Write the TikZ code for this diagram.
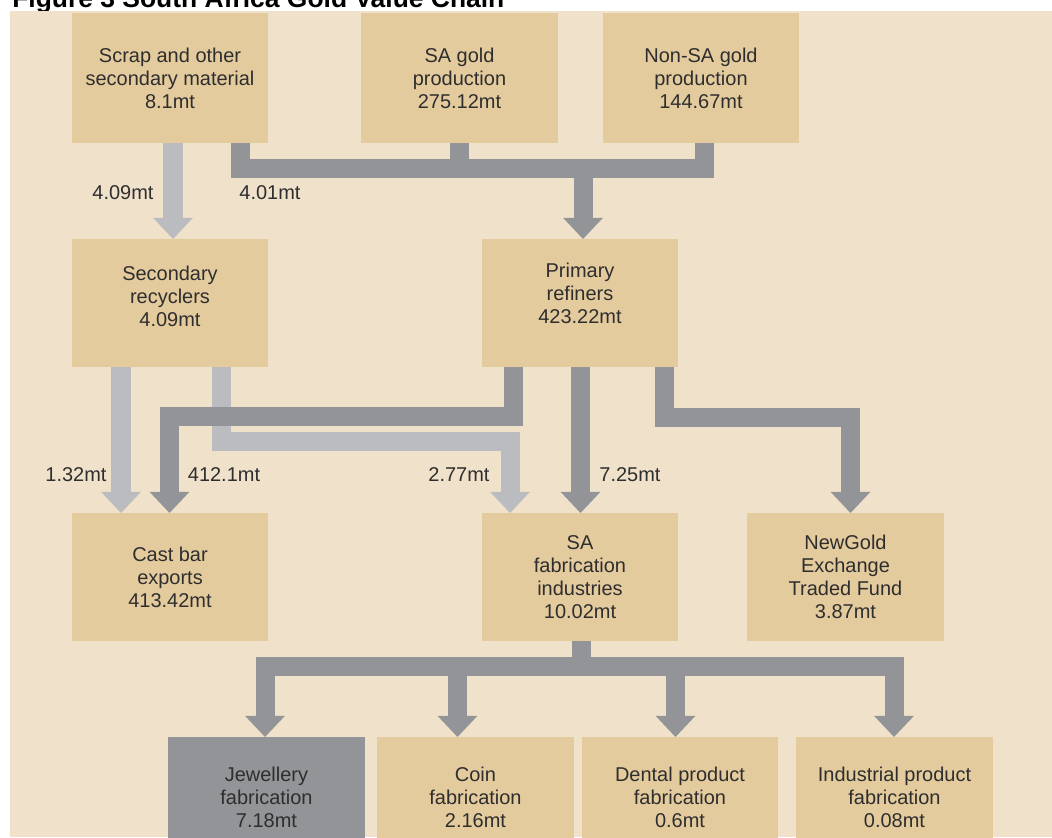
\documentclass[tikz,border=0pt]{standalone}
\usepackage{fontspec}
\setmainfont{Liberation Sans}
\usepackage{xcolor}
\definecolor{ink}{HTML}{2E2E2E}
\definecolor{panelBg}{HTML}{F0E1CA}
\definecolor{boxBg}{HTML}{E4CB9E}
\definecolor{flowDk}{HTML}{939498}
\definecolor{flowLt}{HTML}{BBBCC0}
\usetikzlibrary{arrows.meta,calc}
\tikzset{
  box/.style={fill=boxBg,inner sep=0pt,outer sep=0pt,minimum width=4.9cm,
    minimum height=3.2cm,align=center,text=ink,font=\fontsize{14.2}{16.4}\selectfont},
  greybox/.style={box,fill=flowDk},
  bar/.style={line width=0.475cm},
  darkbar/.style={bar,draw=flowDk},
  lightbar/.style={bar,draw=flowLt},
  darkflow/.style={darkbar,-{Triangle[width=1cm,length=0.53cm,line width=0pt]}},
  lightflow/.style={lightbar,-{Triangle[width=1cm,length=0.53cm,line width=0pt]}},
  lbl/.style={text=ink,inner sep=0pt,font=\fontsize{14.2}{16.4}\selectfont}}

\begin{document}
\begin{tikzpicture}[x=0.025cm,y=-0.025cm]
  \useasboundingbox (0,0) rectangle (1052,837);
  \fill[white] (0,0) rectangle (1052,837);
  \node[anchor=base west,inner sep=0pt,font=\bfseries\fontsize{18.8}{22}\selectfont]
    (title) at (12,7) {Figure 3 South Africa Gold Value Chain};
  \fill[panelBg] (10,11) rectangle (1052,837);

  % sources
  \node[box,minimum height=3.25cm] (scrap) at (170,78) {Scrap and other\\secondary material\\8.1mt};
  \node[box,minimum height=3.25cm] (sagold) at (459.5,78) {SA gold\\production\\275.12mt};
  \node[box,minimum height=3.25cm] (nonsa) at (701,78) {Non-SA gold\\production\\144.67mt};
  % refining
  \node[box,text depth=0.35cm] (recycler) at (170,303) {Secondary\\recyclers\\4.09mt};
  \node[box,text depth=0.5cm] (refiner) at (580,303) {Primary\\refiners\\423.22mt};
  % outlets
  \node[box] (castbar) at (170,577) {Cast bar\\exports\\413.42mt};
  \node[box] (safab) at (580,577) {SA\\fabrication\\industries\\10.02mt};
  \node[box] (newgold) at (845.5,577) {NewGold\\Exchange\\Traded Fund\\3.87mt};
  % fabrication
  \node[greybox,minimum height=3cm] (jewel) at (266.5,797) {Jewellery\\fabrication\\7.18mt};
  \node[box,minimum height=3cm] (coin) at (475.5,797) {Coin\\fabrication\\2.16mt};
  \node[box,minimum height=3cm] (dental) at (680,797) {Dental product\\fabrication\\0.6mt};
  \node[box,minimum height=3cm] (industrial) at (894.5,797) {Industrial product\\fabrication\\0.08mt};

  % light flows first, the dark ones pass over them
  \draw[lightflow] (scrap.south -| 173,0) -- (recycler.north -| 173,0);
  \draw[lightflow] (recycler.south -| 121,0) -- (castbar.north -| 121,0);
  \draw[lightflow] (recycler.south -| 221,0) |- (510,441) -- (safab.north -| 510,0);

  \coordinate (merge) at (583,168);
  \draw[darkbar] (scrap.south -| 240,0) |- (704,168) -- (nonsa.south -| 704,0);
  \draw[darkbar] (sagold.south) -- (sagold.south |- merge);
  \draw[darkflow] (merge) -- (refiner.north -| merge);
  \draw[darkflow] (refiner.south -| 513,0) |- (169.5,416) -- (castbar.north -| 169.5,0);
  \draw[darkflow] (refiner.south -| 580.5,0) -- (safab.north -| 580.5,0);
  \draw[darkflow] (refiner.south -| 664,0) |- (850.5,417) -- (newgold.north -| 850.5,0);

  \coordinate (split) at (581,666);
  \coordinate (coinDrop) at (457.5,666);
  \coordinate (dentalDrop) at (675.5,666);
  \draw[darkbar] (safab.south -| split) -- (split);
  \draw[darkflow] (split) -| (jewel.north -| 265,0);
  \draw[darkflow] (split) -| (industrial.north -| 894,0);
  \draw[darkflow] (coinDrop) -- (coin.north -| coinDrop);
  \draw[darkflow] (dentalDrop) -- (dental.north -| dentalDrop);

  % flow labels
  \node[lbl] (f409) at (123,193) {4.09mt};
  \node[lbl] (f401) at (270,193) {4.01mt};
  \node[lbl] (f132) at (76,475) {1.32mt};
  \node[lbl] (f4121) at (224,475) {412.1mt};
  \node[lbl] (f277) at (459,475) {2.77mt};
  \node[lbl] (f725) at (630,475) {7.25mt};
\end{tikzpicture}
\end{document}
